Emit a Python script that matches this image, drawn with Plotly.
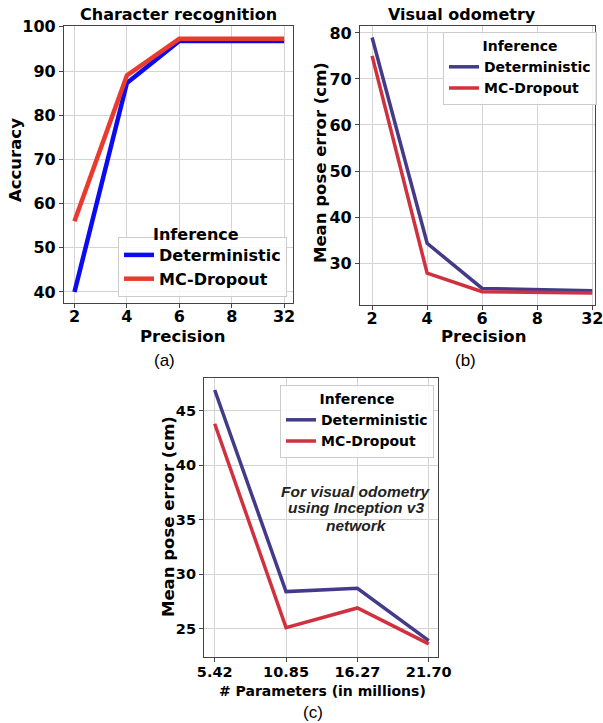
import plotly.graph_objects as go

precision = ["2", "4", "6", "8", "32"]
acc_det = [40.0, 87.3, 96.8, 96.8, 96.8]
acc_mc = [56.0, 89.0, 97.3, 97.3, 97.3]

vo_det = [79.0, 34.3, 24.5, 24.2, 24.0]
vo_mc = [75.0, 27.8, 23.8, 23.6, 23.5]

params = ["5.42", "10.85", "16.27", "21.70"]
inc_det = [46.9, 28.4, 28.7, 23.9]
inc_mc = [43.8, 25.1, 26.9, 23.6]

FONT = "DejaVu Sans"
C_BLUE_A, C_RED_A = "#0b0bf2", "#ea3a2e"
C_DET, C_MC = "#433b8a", "#d0313f"

fig = go.Figure()
fig.add_trace(go.Scatter(x=precision, y=acc_det, mode="lines", name="Deterministic",
                         line=dict(color=C_BLUE_A, width=4.5), xaxis="x", yaxis="y", legend="legend"))
fig.add_trace(go.Scatter(x=precision, y=acc_mc, mode="lines", name="MC-Dropout",
                         line=dict(color=C_RED_A, width=4.5), xaxis="x", yaxis="y", legend="legend"))
fig.add_trace(go.Scatter(x=precision, y=vo_det, mode="lines", name="Deterministic",
                         line=dict(color=C_DET, width=3.5), xaxis="x2", yaxis="y2", legend="legend2"))
fig.add_trace(go.Scatter(x=precision, y=vo_mc, mode="lines", name="MC-Dropout",
                         line=dict(color=C_MC, width=3.5), xaxis="x2", yaxis="y2", legend="legend2"))
fig.add_trace(go.Scatter(x=params, y=inc_det, mode="lines", name="Deterministic",
                         line=dict(color=C_DET, width=3.5), xaxis="x3", yaxis="y3", legend="legend3"))
fig.add_trace(go.Scatter(x=params, y=inc_mc, mode="lines", name="MC-Dropout",
                         line=dict(color=C_MC, width=3.5), xaxis="x3", yaxis="y3", legend="legend3"))

W, H = 603, 723
def px(x):
    return x / W
def py(y):
    return 1 - y / H

def ax_common(size):
    return dict(showgrid=True, gridcolor="#d3d3d3", gridwidth=1, showline=True, linecolor="#444",
                linewidth=1.2, mirror=True, ticks="outside", ticklen=4, tickcolor="#444",
                tickfont=dict(family=FONT, size=size, color="black", weight="bold"),
                automargin=False, zeroline=False)

xa = ax_common(16); xa.update(domain=[px(64), px(293)], anchor="y", type="category", range=[-0.2, 4.17],
                               ticklabelstandoff=-5)
ya = ax_common(16); ya.update(domain=[py(303), py(26)], anchor="x", range=[37.5, 100.2], dtick=10)
xb = ax_common(16); xb.update(domain=[px(360), px(595)], anchor="y2", type="category", range=[-0.22, 4.05],
                               ticklabelstandoff=-5)
yb = ax_common(16); yb.update(domain=[py(305), py(26)], anchor="x2", range=[20.9, 81.5], dtick=10)
xc = ax_common(14.5); xc.update(domain=[px(204), px(438)], anchor="y3", type="category", range=[-0.15, 3.13],
                                 ticklabelstandoff=-3)
yc = ax_common(14.5); yc.update(domain=[py(657), py(378)], anchor="x3", range=[22.4, 48.0], dtick=5)

def leg(x, y, xanchor, yanchor, size, title=True):
    d = dict(x=x, y=y, xanchor=xanchor, yanchor=yanchor, xref="paper", yref="paper",
             bgcolor="rgba(255,255,255,0.85)", bordercolor="#cccccc", borderwidth=1,
             font=dict(family=FONT, size=size, color="black", weight="bold"),
             tracegroupgap=0, itemwidth=30)
    if title:
        d["title"] = dict(text="Inference", side="top center",
                          font=dict(family=FONT, size=size, color="black", weight="bold"))
    return d

def note(text, x, y, size, family=FONT, color="black", angle=0):
    return dict(text=text, x=px(x), y=py(y), xref="paper", yref="paper", showarrow=False,
                textangle=angle, font=dict(family=family, size=size, color=color),
                xanchor="center", yanchor="middle")

fig.update_layout(
    width=W, height=H, autosize=False, margin=dict(l=0, r=0, t=0, b=0, autoexpand=False),
    paper_bgcolor="white", plot_bgcolor="white",
    font=dict(family=FONT, color="black"),
    xaxis=xa, yaxis=ya, xaxis2=xb, yaxis2=yb, xaxis3=xc, yaxis3=yc,
    legend=leg(px(287), py(297), "right", "bottom", 16, title=False),
    legend2=leg(px(597), py(32), "right", "top", 14),
    legend3=leg(px(434), py(385), "right", "top", 14),
    annotations=[
        note("<b>Character recognition</b>", 178, 14, 16),
        note("<b>Visual odometry</b>", 462, 14, 16),
        note("<b>Precision</b>", 182, 336, 16.5),
        note("<b>Precision</b>", 483, 336, 16.5),
        note("<b># Parameters (in millions)</b>", 322, 691, 14),
        note("<b>Accuracy</b>", 15, 160, 16.5, angle=-90),
        note("<b>Mean pose error (cm)</b>", 321, 163, 16.5, angle=-90),
        note("<b>Mean pose error (cm)</b>", 168, 517, 16.5, angle=-90),
        note("<b>Inference</b>", 196, 235, 16),
        note("(a)", 165, 360, 17, "Liberation Sans"),
        note("(b)", 465, 360, 17, "Liberation Sans"),
        note("(c)", 313, 712, 17, "Liberation Sans"),
        note("<b><i>For visual odometry</i></b>", 356, 491, 15.5, "Liberation Sans", "#222"),
        note("<b><i>using Inception v3</i></b>", 356, 508, 15.5, "Liberation Sans", "#222"),
        note("<b><i>network</i></b>", 356, 525, 15.5, "Liberation Sans", "#222"),
    ],
)

fig.write_html("out.html")
